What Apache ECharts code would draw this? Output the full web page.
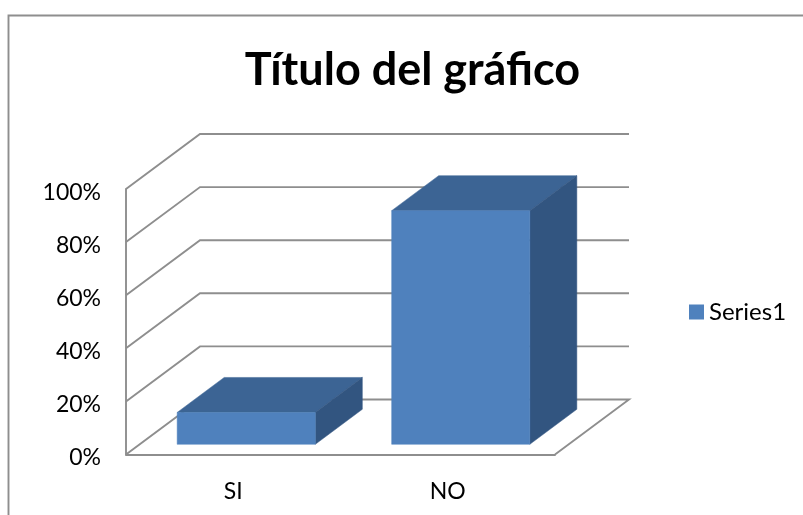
<!DOCTYPE html>
<html><head><meta charset="utf-8">
<style>html,body{margin:0;padding:0;background:#fff}#c{width:803px;height:515px}</style>
<script src="https://cdn.jsdelivr.net/npm/echarts@6/dist/echarts.min.js"></script>
</head><body><div id="c"></div>
<script>
const categories = ['SI', 'NO'];
const seriesName = 'Series1';
const seriesValues = [12, 88];
const yTicks = [0, 20, 40, 60, 80, 100];
const titleText = 'Título del gráfico';

const LINE = '#8e8e8e', FRONT = '#4f81bd', TOP = '#3c6494', SIDE = '#325580';
const WALL_DX = 74, WALL_DY = -55;
const BAR_DX = 47, BAR_DY = -35, BAR_OX = 13, BAR_OY = -10.2, BAR_W = 0.644;

const chart = echarts.init(document.getElementById('c'), null, {renderer: 'canvas'});

function poly(points, fill, stroke) {
  return {type: 'polygon', shape: {points},
    style: {fill, stroke: stroke || fill, lineWidth: stroke ? 1 : 0.5}};
}
function renderWall(params, api) {
  const cs = params.coordSys;
  const p = api.coord([0, api.value(0)]);
  const y = p[1], x0 = cs.x, x1 = cs.x + cs.width;
  const isZero = api.value(0) === 0;
  const pts = [[x0, y], [x0 + WALL_DX, y + WALL_DY], [x1 + WALL_DX, y + WALL_DY]];
  if (isZero) pts.push([x1, y]);
  return {type: 'polyline', shape: {points: pts},
    style: {fill: null, stroke: LINE, lineWidth: 1.9}};
}
function renderBar(params, api) {
  const c = api.coord([api.value(0), 0]);
  const t = api.coord([api.value(0), api.value(1)]);
  const w = api.size([1, 0])[0] * BAR_W;
  const l = c[0] + BAR_OX - w / 2, r = l + w;
  const b = c[1] + BAR_OY, h = t[1] + BAR_OY;
  return {type: 'group', children: [
    poly([[l, h], [r, h], [r + BAR_DX, h + BAR_DY], [l + BAR_DX, h + BAR_DY]], TOP),
    poly([[r, h], [r + BAR_DX, h + BAR_DY], [r + BAR_DX, b + BAR_DY], [r, b]], SIDE),
    poly([[l, h], [r, h], [r, b], [l, b]], FRONT)
  ]};
}

chart.setOption({
  animation: false,
  backgroundColor: '#fff',
  title: {text: titleText, left: 412.5, top: 48, textAlign: 'center', padding: 0,
    textStyle: {fontFamily: 'Lato', fontWeight: 'bold', fontSize: 45, color: '#000'}},
  legend: {data: [seriesName], left: 689, top: 300, padding: 0, itemWidth: 15, itemHeight: 15, itemGap: 7,
    icon: 'rect', textStyle: {fontFamily: 'Lato', fontSize: 24, color: '#000'}},
  grid: {left: 126, top: 189, width: 429, height: 265.5},
  xAxis: {type: 'category', data: categories,
    axisLine: {show: true, lineStyle: {color: LINE, width: 1.9}},
    axisTick: {show: false},
    axisLabel: {margin: 26, fontFamily: 'Lato', fontSize: 23, color: '#000'}},
  yAxis: {type: 'value', min: 0, max: 100, interval: 20,
    axisLine: {show: true, lineStyle: {color: LINE, width: 1.9}},
    axisTick: {show: false}, splitLine: {show: false},
    axisLabel: {margin: 25, formatter: '{a|{value}%}',
      rich: {a: {padding: [7, 0, 0, 0], fontFamily: 'Lato', fontSize: 23, color: '#000'}}}},
  graphic: [{type: 'polyline', silent: true, z: -1,
    shape: {points: [[8.5, 515], [8.5, 15.5], [803, 15.5]]},
    style: {fill: null, stroke: LINE, lineWidth: 1.9}}],
  series: [
    {type: 'custom', name: 'walls', silent: true, clip: false, z: 1,
      encode: {y: 0}, data: yTicks.map(v => [v]), renderItem: renderWall},
    {type: 'custom', name: seriesName, silent: true, clip: false, z: 2,
      itemStyle: {color: FRONT}, encode: {x: 0, y: 1},
      data: categories.map((c, i) => [i, seriesValues[i]]), renderItem: renderBar}
  ]
});
</script></body></html>
